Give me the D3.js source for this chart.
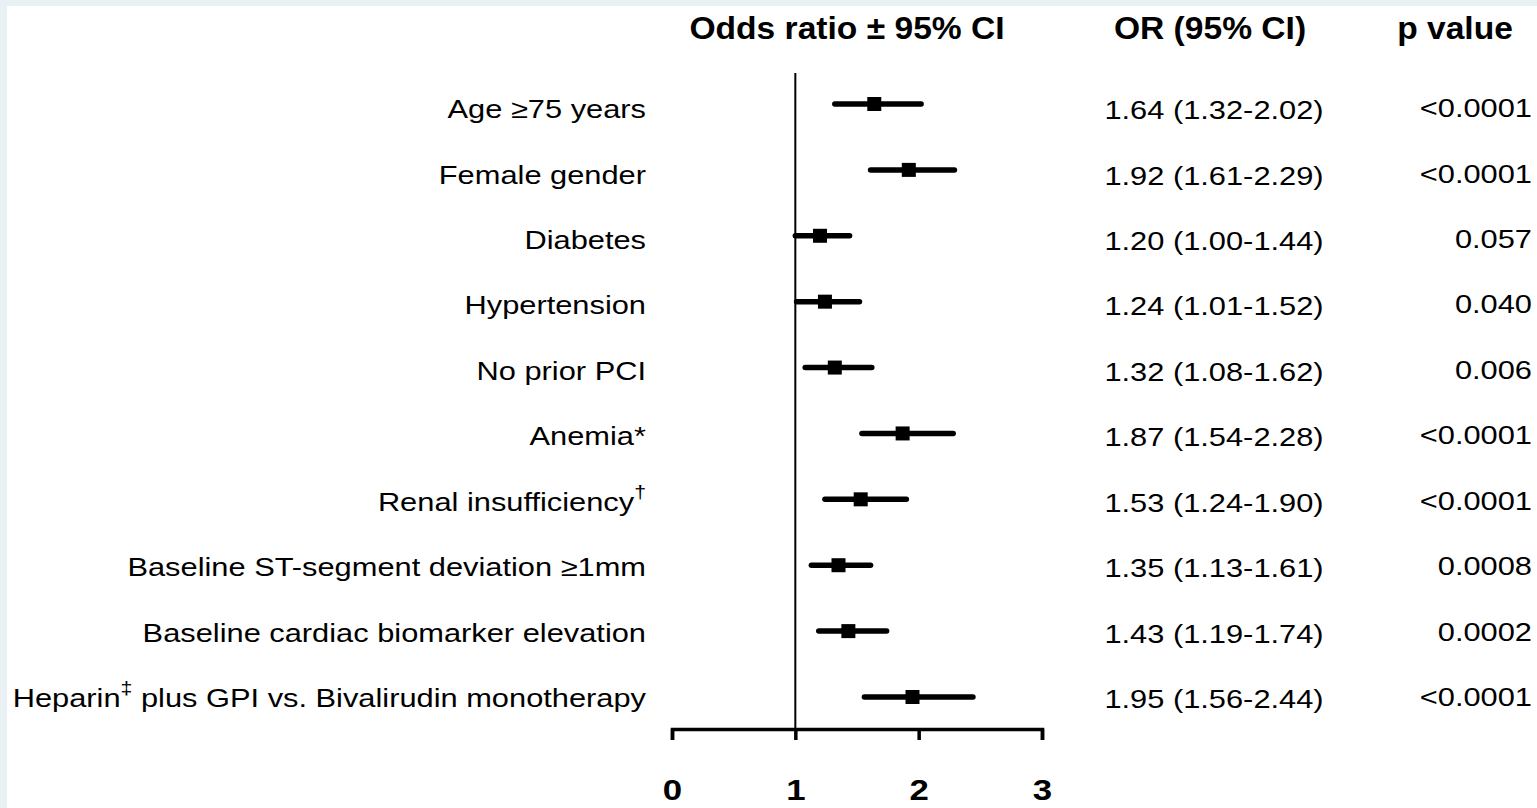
<!DOCTYPE html>
<html>
<head>
<meta charset="utf-8">
<script src="https://cdn.jsdelivr.net/npm/d3@7"></script>
<style>
  html, body { margin: 0; padding: 0; background: #e9f1f5; }
  svg { display: block; }
  text { font-family: "Liberation Sans", Arial, sans-serif; fill: #000; }
</style>
</head>
<body>
<svg id="chart" width="1537" height="808"></svg>
<script>
// ---- data ----
const categories = [
  "Age ≥75 years",
  "Female gender",
  "Diabetes",
  "Hypertension",
  "No prior PCI",
  "Anemia*",
  "Renal insufficiency|†",
  "Baseline ST-segment deviation ≥1mm",
  "Baseline cardiac biomarker elevation",
  "Heparin|‡| plus GPI vs. Bivalirudin monotherapy"
];
const orValues = [1.64, 1.92, 1.20, 1.24, 1.32, 1.87, 1.53, 1.35, 1.43, 1.95];
const ciLow    = [1.32, 1.61, 1.00, 1.01, 1.08, 1.54, 1.24, 1.13, 1.19, 1.56];
const ciHigh   = [2.02, 2.29, 1.44, 1.52, 1.62, 2.28, 1.90, 1.61, 1.74, 2.44];
const pValues  = ["<0.0001", "<0.0001", "0.057", "0.040", "0.006", "<0.0001", "<0.0001", "0.0008", "0.0002", "<0.0001"];
const axisTicks = [0, 1, 2, 3];
const headers = ["Odds ratio ± 95% CI", "OR (95% CI)", "p value"];

const rows = categories.map((c, i) => ({
  label: c, or: orValues[i], lo: ciLow[i], hi: ciHigh[i], p: pValues[i], i
}));
const fmt = d3.format(".2f");

// ---- layout ----
const svg = d3.select("#chart");
svg.append("rect").attr("x", 7).attr("y", 6).attr("width", 1530).attr("height", 802).attr("fill", "#fff");

const x = d3.scaleLinear().domain([0, 3]).range([672, 1042]);
const yBar = d3.scalePoint().domain(d3.range(rows.length)).range([104, 697]);
const yText = d3.scalePoint().domain(d3.range(rows.length)).range([109, 698]);
const axisY = 729;
const SX = 1.185; // horizontal stretch of the original figure's text

// reference line at OR = 1
svg.append("line")
  .attr("x1", x(1)).attr("x2", x(1))
  .attr("y1", 73).attr("y2", axisY)
  .attr("stroke", "#000").attr("stroke-width", 2);

// axis
const axis = d3.axisBottom(x).tickValues(axisTicks).tickSize(11).tickPadding(39).tickFormat(d3.format("d"));
const gAxis = svg.append("g").attr("transform", `translate(0,${axisY})`).call(axis);
gAxis.select(".domain").attr("stroke", "#000").attr("stroke-width", 3.5);
gAxis.selectAll(".tick line").attr("stroke", "#000").attr("stroke-width", 3.5);
gAxis.selectAll(".tick text")
  .attr("font-size", 29).attr("font-weight", "bold")
  .attr("font-family", "Liberation Sans, Arial, sans-serif")
  .attr("fill", "#000")
  .attr("x", 0)
  .attr("transform", `scale(1.2,1)`);

// CI bars
svg.append("g").selectAll("line").data(rows).join("line")
  .attr("x1", d => x(d.lo)).attr("x2", d => x(d.hi))
  .attr("y1", d => yBar(d.i)).attr("y2", d => yBar(d.i))
  .attr("stroke", "#000").attr("stroke-width", 5.5).attr("stroke-linecap", "round");

// point estimates
const sq = 14;
svg.append("g").selectAll("rect").data(rows).join("rect")
  .attr("x", d => x(d.or) - sq / 2).attr("y", d => yBar(d.i) - sq / 2)
  .attr("width", sq).attr("height", sq).attr("fill", "#000");

// helper for stretched text
function stretched(sel, px, py, anchor) {
  return sel.attr("x", 0).attr("y", 0)
    .attr("text-anchor", anchor)
    .attr("dominant-baseline", "central")
    .attr("transform", (d, i) => `translate(${px(d, i)},${py(d, i)}) scale(${SX},1)`);
}

// row labels
const labels = svg.append("g").selectAll("text").data(rows).join("text")
  .attr("font-size", 26);
stretched(labels, () => 646, d => yText(d.i), "end");
labels.each(function(d) {
  const parts = d.label.split("|");
  const t = d3.select(this);
  parts.forEach(p => {
    const ts = t.append("tspan").text(p);
    if (p === "†" || p === "‡") ts.attr("baseline-shift", "super").attr("font-size", 18);
  });
});

// OR (95% CI) column
const orText = svg.append("g").selectAll("text").data(rows).join("text")
  .attr("font-size", 26)
  .text(d => `${fmt(d.or)} (${fmt(d.lo)}-${fmt(d.hi)})`);
stretched(orText, () => 1214, d => yText(d.i) + 1, "middle");

// p value column
const pText = svg.append("g").selectAll("text").data(rows).join("text")
  .attr("font-size", 26)
  .text(d => d.p);
stretched(pText, () => 1532, d => yText(d.i) - 1, "end");

// headers
const headerX = [847, 1210, 1455];
const hd = svg.append("g").selectAll("text").data(headers).join("text")
  .attr("font-size", 32).attr("font-weight", "bold").text(d => d);
hd.attr("x", 0).attr("y", 0).attr("text-anchor", "middle")
  .attr("transform", (d, i) => `translate(${headerX[i]},39) scale(1.05,1)`);
</script>
</body>
</html>
